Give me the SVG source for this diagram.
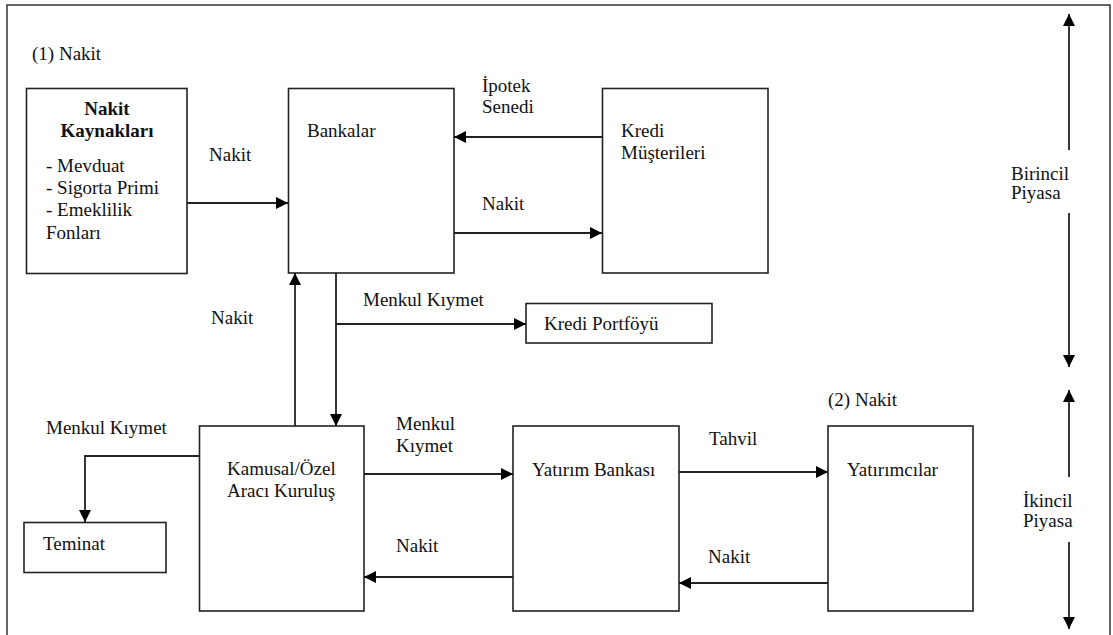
<svg xmlns="http://www.w3.org/2000/svg" width="1113" height="635" viewBox="0 0 1113 635">
<defs>
<marker id="ah" markerWidth="12" markerHeight="12" viewBox="0 0 12 12" refX="12" refY="6" orient="auto" markerUnits="userSpaceOnUse">
<path d="M0,0 L12,6 L0,12 Z" fill="#000"/>
</marker>
<style>
.box{fill:#fff;stroke:#222;stroke-width:1.6}
.arr{fill:none;stroke:#222;stroke-width:1.8;marker-end:url(#ah)}
text{font-size:19px;fill:#111}
.b{font-weight:bold}
</style>
</defs>
<rect x="0" y="0" width="1113" height="635" fill="#fff"/>
<rect x="7" y="5" width="1103" height="640" fill="none" stroke="#333" stroke-width="1.5"/>
<g font-family="'Liberation Serif', 'DejaVu Serif', 'Noto Serif', serif">
<text x="32" y="60">(1) Nakit</text>
<text x="828" y="406">(2) Nakit</text>

<g id="nakit-kaynaklari">
<rect class="box" x="26.5" y="88.5" width="160.5" height="185"/>
<text class="b" x="107" y="115" text-anchor="middle">Nakit</text>
<text class="b" x="107" y="137" text-anchor="middle">Kaynakları</text>
<text x="46" y="172">- Mevduat</text>
<text x="46" y="194">- Sigorta Primi</text>
<text x="46" y="216">- Emeklilik</text>
<text x="46" y="239">Fonları</text>
</g>
<g id="bankalar">
<rect class="box" x="288.5" y="88.5" width="165.5" height="184.5"/>
<text x="307" y="137">Bankalar</text>
</g>
<g id="kredi-musterileri">
<rect class="box" x="602.5" y="88.5" width="165.5" height="184.5"/>
<text x="621" y="137">Kredi</text>
<text x="621" y="159">Müşterileri</text>
</g>
<g id="kredi-portfoyu">
<rect class="box" x="526" y="303.5" width="186" height="39.5"/>
<text x="544" y="330">Kredi Portföyü</text>
</g>
<g id="kamusal">
<rect class="box" x="199.5" y="426" width="164.5" height="185"/>
<text x="227" y="475">Kamusal/Özel</text>
<text x="227" y="497">Aracı Kuruluş</text>
</g>
<g id="teminat">
<rect class="box" x="24" y="522.5" width="142" height="50"/>
<text x="43" y="550">Teminat</text>
</g>
<g id="yatirim-bankasi">
<rect class="box" x="513" y="426" width="166" height="185"/>
<text x="532" y="476">Yatırım Bankası</text>
</g>
<g id="yatirimcilar">
<rect class="box" x="828" y="426" width="145" height="185"/>
<text x="847" y="476">Yatırımcılar</text>
</g>

<g id="connectors">
<line class="arr" x1="187" y1="203" x2="288" y2="203"/>
<text x="209" y="161">Nakit</text>
<line class="arr" x1="602" y1="137" x2="454" y2="137"/>
<text x="482" y="92">İpotek</text>
<text x="482" y="113">Senedi</text>
<line class="arr" x1="454" y1="233" x2="602" y2="233"/>
<text x="482" y="210">Nakit</text>
<line class="arr" x1="295" y1="426" x2="295" y2="273"/>
<text x="211" y="324">Nakit</text>
<line class="arr" x1="336" y1="273" x2="336" y2="426"/>
<line class="arr" x1="336" y1="324" x2="526" y2="324"/>
<text x="363" y="306">Menkul Kıymet</text>
<polyline class="arr" points="199,456 85,456 85,522"/>
<text x="46" y="434">Menkul Kıymet</text>
<line class="arr" x1="364" y1="474" x2="513" y2="474"/>
<text x="396" y="430">Menkul</text>
<text x="396" y="452">Kıymet</text>
<line class="arr" x1="513" y1="577" x2="364" y2="577"/>
<text x="396" y="552">Nakit</text>
<line class="arr" x1="679" y1="472" x2="828" y2="472"/>
<text x="709" y="445">Tahvil</text>
<line class="arr" x1="828" y1="583" x2="679" y2="583"/>
<text x="708" y="563">Nakit</text>
<line class="arr" x1="1069" y1="150" x2="1069" y2="14"/>
<line class="arr" x1="1069" y1="213" x2="1069" y2="367"/>
<text x="1011" y="180">Birincil</text>
<text x="1011" y="199">Piyasa</text>
<line class="arr" x1="1069" y1="477" x2="1069" y2="390"/>
<line class="arr" x1="1069" y1="542" x2="1069" y2="629"/>
<text x="1023" y="507">İkincil</text>
<text x="1023" y="527">Piyasa</text>
</g>
</g>
</svg>
